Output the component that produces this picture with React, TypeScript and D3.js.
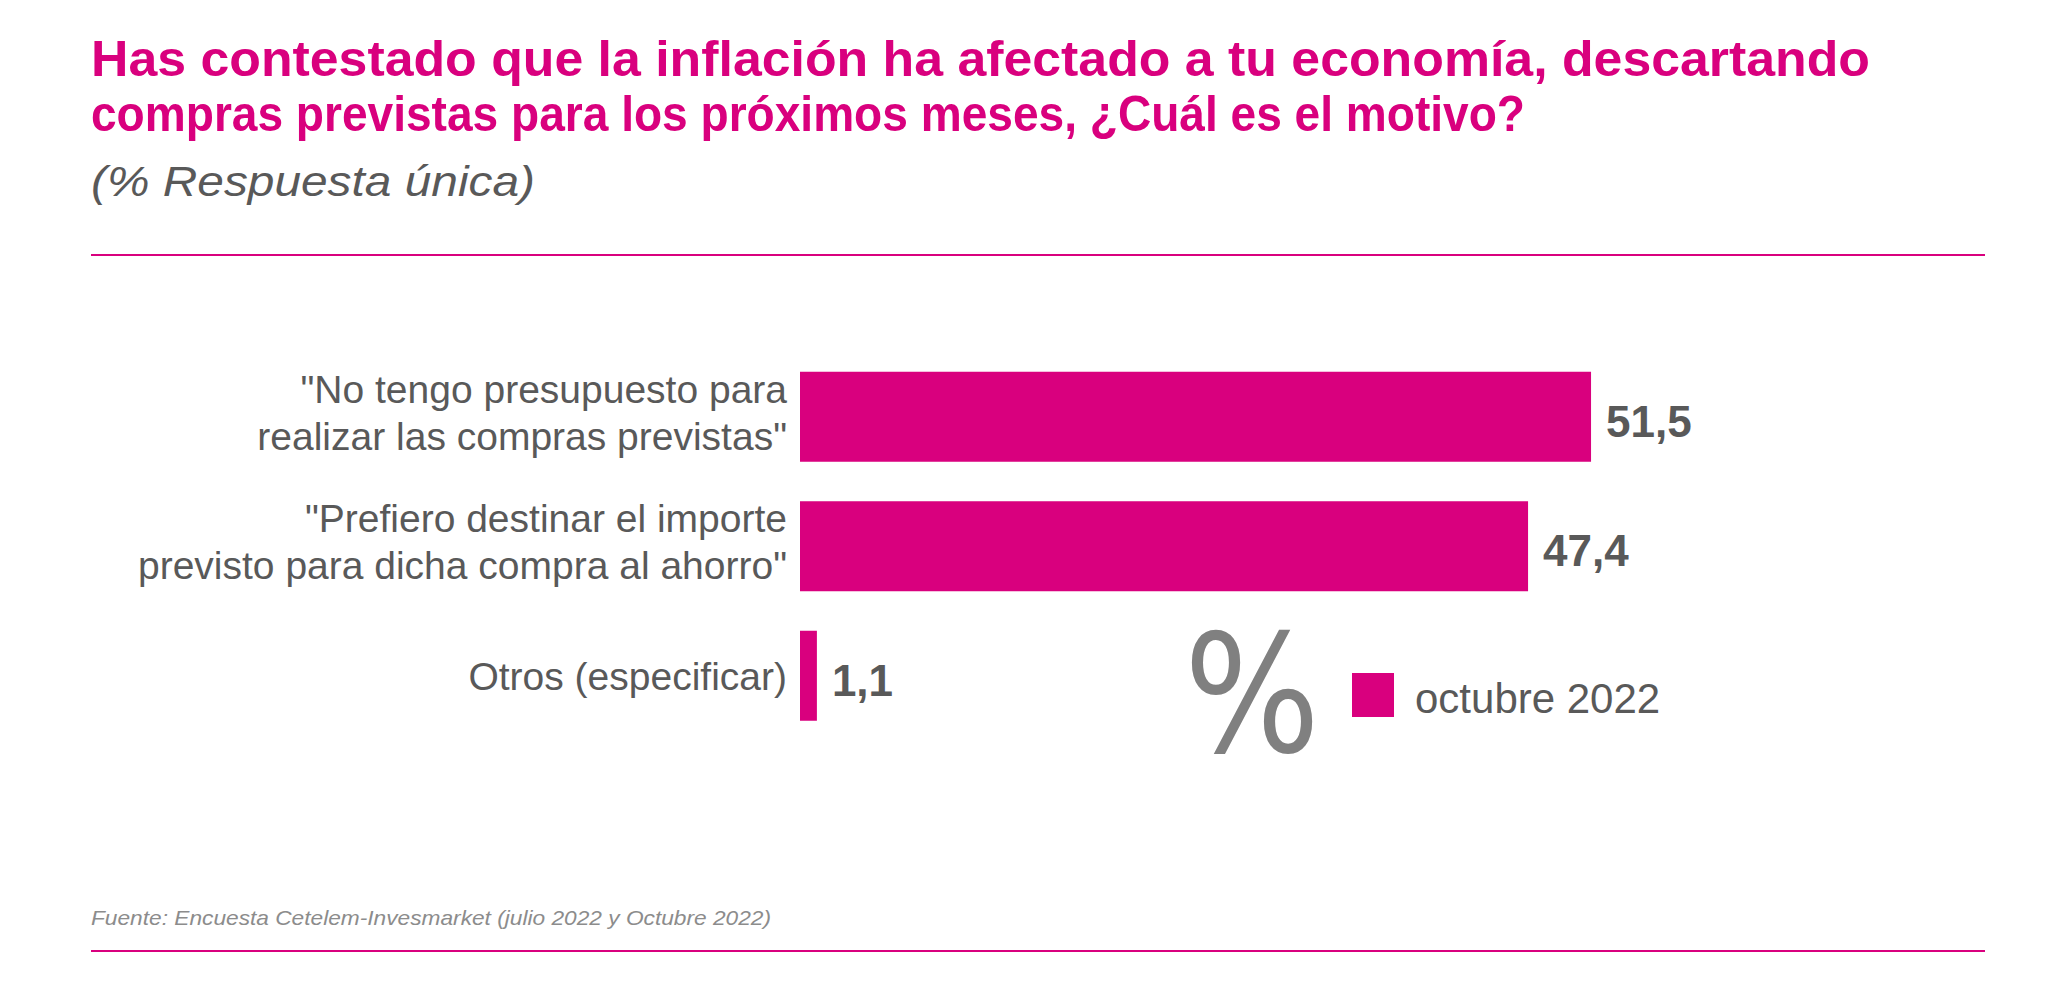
import { useMemo } from 'react';
import * as d3 from 'd3';

const categories = ['presupuesto', 'ahorro', 'otros'];
const categoryLines = [
  ['"No tengo presupuesto para', 'realizar las compras previstas"'],
  ['"Prefiero destinar el importe', 'previsto para dicha compra al ahorro"'],
  ['Otros (especificar)'],
];
const values = [51.5, 47.4, 1.1];
const seriesName = 'octubre 2022';

const titleLines = [
  'Has contestado que la inflación ha afectado a tu economía, descartando',
  'compras previstas para los próximos meses, ¿Cuál es el motivo?',
];
const subtitle = '(% Respuesta única)';
const source = 'Fuente: Encuesta Cetelem-Invesmarket (julio 2022 y Octubre 2022)';

const W = 2048;
const H = 986;
const PINK = '#d9007e';
const GREY = '#595959';
const FONT = '"Liberation Sans", Arial, sans-serif';

const fmt = (v: number) => v.toFixed(1).replace('.', ',');

export default function App() {
  const x = useMemo(() => d3.scaleLinear().domain([0, 100]).range([800, 2336]), []);
  const y = useMemo(
    () => d3.scaleBand<string>().domain(categories).range([352, 740.5]).paddingInner(0.305).paddingOuter(0.1525),
    []
  );
  const bw = y.bandwidth();

  return (
    <svg width={W} height={H} viewBox={`0 0 ${W} ${H}`}
      style={{ position: 'absolute', left: 0, top: 0, background: '#fff', fontFamily: FONT }}>
      {/* heading */}
      {titleLines.map((t, i) => (
        <text key={t} x={91} y={76 + i * 55} fill={PINK} fontSize={50} fontWeight="bold"
          textLength={i === 0 ? 1779 : 1434} lengthAdjust="spacingAndGlyphs">{t}</text>
      ))}
      <text x={91} y={196} fill={GREY} fontSize={43} fontStyle="italic"
        textLength={444} lengthAdjust="spacingAndGlyphs">{subtitle}</text>
      <line x1={91} x2={1985} y1={255} y2={255} stroke={PINK} strokeWidth={2} />

      {/* bars */}
      {categories.map((c, i) => {
        const y0 = y(c) ?? 0;
        const cy = y0 + bw / 2;
        const lines = categoryLines[i];
        return (
          <g key={c}>
            <rect x={x(0)} y={y0} width={x(values[i]) - x(0)} height={bw} fill={PINK} />
            {lines.map((l, j) => (
              <text key={l} x={787} textAnchor="end" fill={GREY} fontSize={39}
                y={lines.length === 1 ? cy + 14 : cy - 14 + j * 47}>{l}</text>
            ))}
            <text x={x(values[i]) + 15} y={cy + 20} fill={GREY} fontSize={44} fontWeight="bold">
              {fmt(values[i])}
            </text>
          </g>
        );
      })}

      {/* legend */}
      <text x={1184} y={752} fill="#808080" fontSize={164} fontFamily='"DejaVu Sans", sans-serif'
        textLength={136} lengthAdjust="spacingAndGlyphs">%</text>
      <rect x={1352} y={673} width={42} height={44} fill={PINK} />
      <text x={1415} y={713} fill={GREY} fontSize={42}>{seriesName}</text>

      {/* source */}
      <text x={91} y={925} fill="#8c8c8c" fontSize={21} fontStyle="italic"
        textLength={680} lengthAdjust="spacingAndGlyphs">{source}</text>
      <line x1={91} x2={1985} y1={951} y2={951} stroke={PINK} strokeWidth={2} />
    </svg>
  );
}
